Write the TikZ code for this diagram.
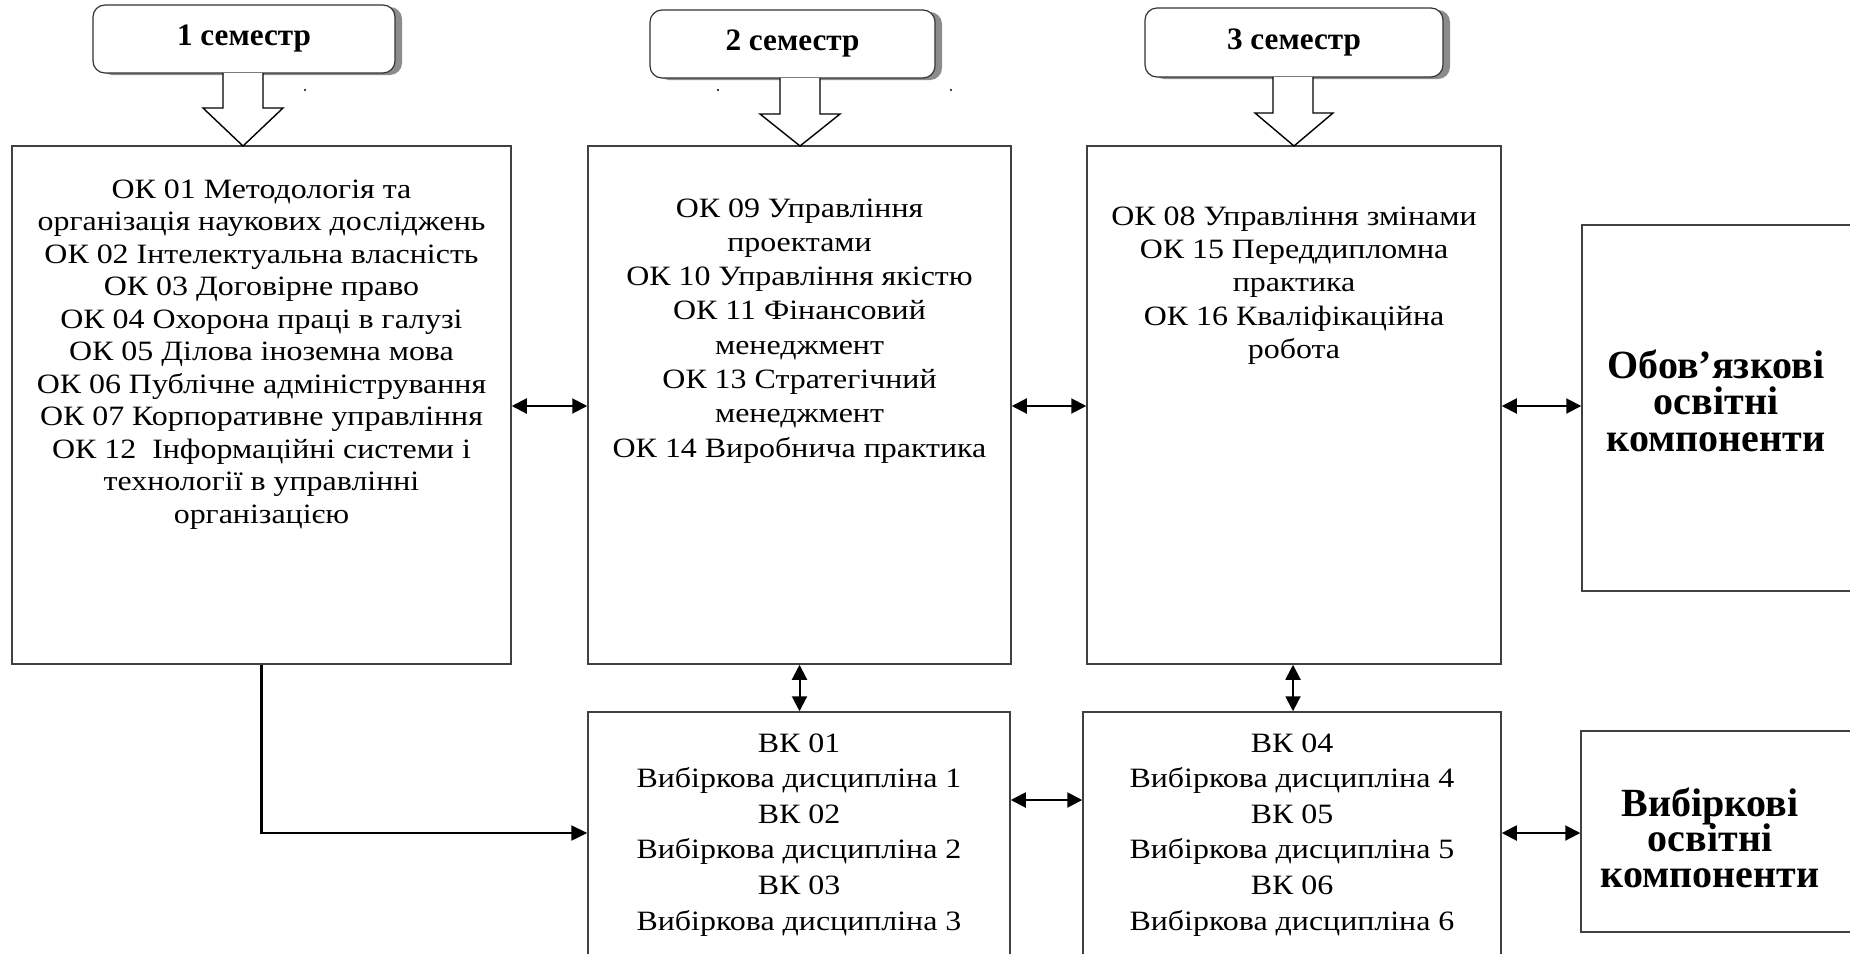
\documentclass[tikz,border=0pt]{standalone}
\usepackage{fontspec}
\setmainfont{Liberation Serif}
\newfontfamily\bodyfont{Liberation Serif}[FakeStretch=1.14]
\usetikzlibrary{arrows.meta,shadows}
\newcommand\mytightlines{\lineskiplimit-20pt\relax}
\begin{document}
\begin{tikzpicture}[x=0.5pt,y=-0.5pt,
  box/.style={draw=black!75, line width=0.75pt, inner sep=0pt, fill=white},
  sem/.style={draw=black!80, line width=0.6pt, rounded corners=6pt, fill=white, inner sep=0pt,
    font=\fontsize{15.6pt}{18pt}\selectfont\bfseries, text height=0.68em, text depth=0pt,
    drop shadow={shadow xshift=3.5pt, shadow yshift=-1pt, fill=black!45, opacity=1}},
  body/.style={inner sep=0pt, align=center, anchor=north},
  lbl/.style={inner sep=0pt, align=center, anchor=north,
    font=\fontsize{20pt}{17.75pt}\selectfont\bfseries\mytightlines},
  blk/.style={draw=black, line width=0.7pt, fill=white, line join=miter},
  dbl/.style={{Triangle[length=7.5pt,width=7.5pt]}-{Triangle[length=7.5pt,width=7.5pt]}, line width=1pt, black},
  one/.style={-{Triangle[length=8pt,width=7.5pt]}, line width=1.2pt, black}
]
\useasboundingbox (0,0) rectangle (1850,953);
\clip (0,0) rectangle (1850,953);

% semester boxes
\node[sem, minimum width=151pt, minimum height=34pt] (s1) at (244,39) {1 семестр};
\node[sem, minimum width=142.5pt, minimum height=34pt] (s2) at (792.5,44) {2 семестр};
\node[sem, minimum width=149pt, minimum height=34.5pt] (s3) at (1294,42.5) {3 семестр};

% main boxes
\node[box, minimum width=249.5pt, minimum height=259pt] (b1) at (261.5,405) {};
\node[box, minimum width=211.5pt, minimum height=259pt] (b2) at (799.5,405) {};
\node[box, minimum width=207pt, minimum height=259pt] (b3) at (1294,405) {};
\node[box, minimum width=135pt, minimum height=183pt] (ob) at (1717,408) {};
\node[box, minimum width=211pt, minimum height=139pt] (v1) at (799,851) {};
\node[box, minimum width=209pt, minimum height=139pt] (v2) at (1292,851) {};
\node[box, minimum width=135.5pt, minimum height=100.5pt] (vb) at (1716.5,831.5) {};

% block arrows
\draw[blk] (223,73) -- (223,108) -- (203,108) -- (243,146) -- (283,108) -- (263,108) -- (263,73);
\draw[blk] (780,78) -- (780,114) -- (760,114) -- (800,146) -- (840,114) -- (820,114) -- (820,78);
\draw[blk] (1273,77) -- (1273,113) -- (1255,113) -- (1294,146) -- (1333,113) -- (1313,113) -- (1313,77);

% stray dots
\fill (305,90) circle (0.6pt);
\fill (718,90) circle (0.6pt);
\fill (951,90) circle (0.6pt);

% texts
\node[body, font=\bodyfont\fontsize{14pt}{16.25pt}\selectfont] (t1) at (261.5,179) {ОК 01 Методологія та\\
організація наукових досліджень\\
ОК 02 Інтелектуальна власність\\
ОК 03 Договірне право\\
ОК 04 Охорона праці в галузі\\
ОК 05 Ділова іноземна мова\\
ОК 06 Публічне адміністрування\\
ОК 07 Корпоративне управління\\
ОК 12~ Інформаційні системи і\\
технології в управлінні\\
організацією};

\node[body, font=\bodyfont\fontsize{14pt}{17.15pt}\selectfont] (t2) at (799.5,198) {ОК 09 Управління\\
проектами\\
ОК 10 Управління якістю\\
ОК 11 Фінансовий\\
менеджмент\\
ОК 13 Стратегічний\\
менеджмент\\
ОК 14 Виробнича практика};

\node[body, font=\bodyfont\fontsize{14pt}{16.7pt}\selectfont] (t3) at (1294,206) {ОК 08 Управління змінами\\
ОК 15 Переддипломна\\
практика\\
ОК 16 Кваліфікаційна\\
робота};

\node[body, font=\bodyfont\fontsize{14pt}{17.8pt}\selectfont] (tv1) at (799,733) {ВК 01\\
Вибіркова дисципліна 1\\
ВК 02\\
Вибіркова дисципліна 2\\
ВК 03\\
Вибіркова дисципліна 3};

\node[body, font=\bodyfont\fontsize{14pt}{17.8pt}\selectfont] (tv2) at (1292,733) {ВК 04\\
Вибіркова дисципліна 4\\
ВК 05\\
Вибіркова дисципліна 5\\
ВК 06\\
Вибіркова дисципліна 6};

\node[lbl, font=\fontsize{20pt}{18.25pt}\selectfont\bfseries\mytightlines] (tob) at (1716,349) {Обов’язкові\\освітні\\компоненти};
\node[lbl] (tvb) at (1710,787) {Вибіркові\\освітні\\компоненти};

% connectors
\coordinate (r1) at (0,406);
\coordinate (r2) at (0,800);
\coordinate (r3) at (0,833);
\coordinate (c3) at (1293,0);
\draw[dbl] (b1.east |- r1) -- (b2.west |- r1);
\draw[dbl] (b2.east |- r1) -- (b3.west |- r1);
\draw[dbl] (b3.east |- r1) -- (ob.west |- r1);
\draw[dbl] (b2.south) -- (b2.south |- v1.north);
\draw[dbl] (b3.south -| c3) -- (v2.north -| c3);
\draw[dbl] (v1.east |- r2) -- (v2.west |- r2);
\draw[dbl] (v2.east |- r3) -- (vb.west |- r3);
\draw[one] (b1.south) |- (v1.west |- r3);
\end{tikzpicture}
\end{document}
